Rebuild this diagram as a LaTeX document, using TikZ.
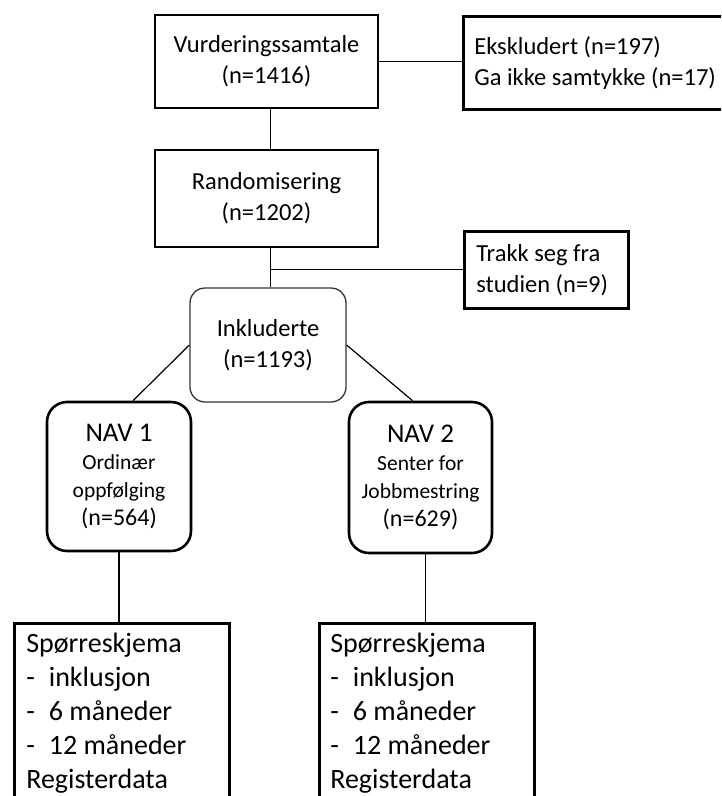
\documentclass[tikz,border=0pt]{standalone}
\usepackage{fontspec}
\setmainfont{Carlito}
\begin{document}
\begin{tikzpicture}
        [
           x=1pt, y=-1pt,
           every node/.style={rectangle,draw,line width=2.6pt,inner sep=0pt,align=center,
                              font=\fontsize{24.5}{31}\selectfont},
           boks/.style={minimum width=#1},
           sidefelt/.style={anchor=north west,align=flush left,inner xsep=#1},
           runde/.style={rounded corners=#1},
           linje/.style={line width=1.2pt}
        ]
        \clip (0,0) rectangle (721,796);
        \node[boks=223pt,minimum height=93pt] (vurd) at (266.5,61.5) {Vurderingssamtale\\(n=1416)};
        \node[sidefelt=11pt,text width=300pt,minimum height=93pt] (eks) at (462,15)
            {Ekskludert (n=197)\\Ga ikke samtykke (n=17)};
        \node[boks=223pt,minimum height=97pt] (rand) at (266.5,198.5) {Randomisering\\(n=1202)};
        \node[sidefelt=12pt,text width=140pt,minimum height=77pt] (trakk) at (463,230)
            {Trakk seg fra\\studien (n=9)};
        \node[boks=156pt,minimum height=114pt,runde=15pt,line width=1.3pt,draw=black!80] (inkl) at (268,345)
            {Inkluderte\\(n=1193)};
        \node[boks=144pt,minimum height=149pt,runde=20pt,font=\fontsize{21.5}{28}\selectfont] (nav1) at (119,476.5)
            {{\fontsize{27}{31}\selectfont NAV 1}\\Ordinær\\oppfølging\\{\fontsize{24}{30}\selectfont (n=564)}};
        \node[boks=143pt,minimum height=151pt,runde=20pt,font=\fontsize{21.5}{28}\selectfont] (nav2) at (420.5,477.5)
            {{\fontsize{27}{31}\selectfont NAV 2}\\Senter for\\Jobbmestring\\{\fontsize{24}{30}\selectfont (n=629)}};
        \node[sidefelt=12pt,text width=191pt,inner ysep=10pt,font=\fontsize{28}{34}\selectfont] (skjema1) at (13,622)
            {Spørreskjema\\-\hspace{14pt}inklusjon\\-\hspace{14pt}6 måneder\\-\hspace{14pt}12 måneder\\Registerdata\\[8pt]};
        \node[sidefelt=11pt,text width=193pt,inner ysep=10pt,font=\fontsize{28}{34}\selectfont] (skjema2) at (318,622)
            {Spørreskjema\\-\hspace{14pt}inklusjon\\-\hspace{14pt}6 måneder\\-\hspace{14pt}12 måneder\\Registerdata\\[8pt]};
        \coordinate (split) at (rand.south |- trakk.west);
        \draw[linje] (vurd.east) -- (vurd.east -| eks.west);
        \draw[linje] ([xshift=4pt]rand.north) -- ([xshift=4pt]vurd.south);
        \draw[linje] ([xshift=4pt]rand.south) -- ([xshift=4pt]rand.south |- inkl.north);
        \draw[linje] ([xshift=4pt]split) -- (trakk.west);
        \draw[linje] (inkl.west) -- ([xshift=14pt]nav1.north);
        \draw[linje] (inkl.east) -- ([xshift=-8pt]nav2.north);
        \draw[linje] (nav1.south) -- (nav1.south |- skjema1.north);
        \draw[linje] ([xshift=5pt]nav2.south) -- ([xshift=5pt]nav2.south |- skjema2.north);
    \end{tikzpicture}
\end{document}
